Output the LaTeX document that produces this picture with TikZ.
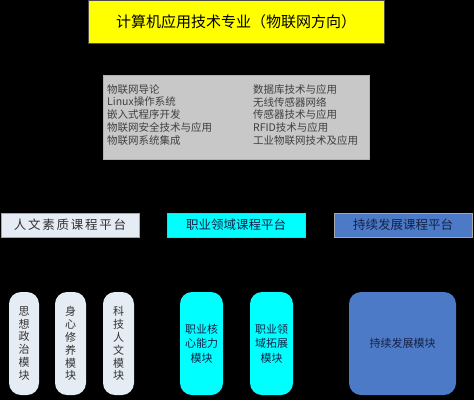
\documentclass[tikz,border=0pt]{standalone}
\usepackage{fontspec}
\newfontfamily\cjk{Noto Sans CJK SC}
\usetikzlibrary{positioning}

\definecolor{titleyellow}{RGB}{255,255,0}
\definecolor{coursegray}{RGB}{200,200,200}
\definecolor{paleblue}{RGB}{230,236,244}
\definecolor{platcyan}{RGB}{0,255,255}
\definecolor{steelblue}{RGB}{76,122,198}
\definecolor{navytext}{RGB}{20,34,72}

\begin{document}
\begin{tikzpicture}[x=1pt,y=-1pt,
    platbox/.style={draw=gray!70, line width=0.6pt, minimum width=138pt,
        minimum height=24pt, inner sep=0pt,
        font=\cjk\fontsize{12.5}{13}\selectfont},
    modbox/.style={rounded corners=12pt, minimum height=103pt, inner sep=0pt,
        align=center, font=\cjk\fontsize{11}{12.9}\selectfont}]
  % background
  \fill[black] (0,0) rectangle (474,400);
  \useasboundingbox (0,0) rectangle (474,400);
  % major
  \node[draw=black!70, fill=titleyellow, minimum width=296pt, minimum height=43pt,
        inner sep=0pt, font=\cjk\fontsize{15}{16}\selectfont] (major) at (236,21.5)
        {计算机应用技术专业（物联网方向）};
  % core courses
  \node[draw=gray!60, fill=coursegray, minimum width=266pt, minimum height=84pt,
        inner sep=0pt] (core) at (236,117) {};
  \node[anchor=north west, align=left, inner sep=0pt, text=black!75,
        font=\cjk\fontsize{10.5}{12.9}\selectfont] (coreleft) at (107,84)
        {物联网导论\\Linux操作系统\\嵌入式程序开发\\物联网安全技术与应用\\物联网系统集成};
  \node[anchor=north west, align=left, inner sep=0pt, text=black!75,
        font=\cjk\fontsize{10.5}{12.9}\selectfont] (coreright) at (253,84)
        {数据库技术与应用\\无线传感器网络\\传感器技术与应用\\RFID技术与应用\\工业物联网技术及应用};
  % platforms
  \node[platbox, fill=paleblue, text=black!80] (human) at (70,225)
        {\addfontfeature{LetterSpace=14}人文素质课程平台};
  \node[platbox, fill=platcyan, text=navytext] (career) at (236,225) {职业领域课程平台};
  \node[platbox, fill=steelblue, text=navytext] (growth) at (403,225) {持续发展课程平台};
  % modules
  \node[modbox, fill=paleblue, minimum width=30pt, text=black!80] (politics) at (24,343.5)
        {思\\想\\政\\治\\模\\块};
  \node[modbox, fill=paleblue, minimum width=31pt, text=black!80] (mind) at (70.5,343.5)
        {身\\心\\修\\养\\模\\块};
  \node[modbox, fill=paleblue, minimum width=31pt, text=black!80] (tech) at (118.5,343.5)
        {科\\技\\人\\文\\模\\块};
  \node[modbox, fill=platcyan, minimum width=43pt, text=navytext,
        font=\cjk\fontsize{11}{14.5}\selectfont] (corecap) at (201.5,343.5)
        {职业核\\心能力\\模块};
  \node[modbox, fill=platcyan, minimum width=43pt, text=navytext,
        font=\cjk\fontsize{11}{14.5}\selectfont] (fieldext) at (271.5,343.5)
        {职业领\\域拓展\\模块};
  \node[modbox, fill=steelblue, minimum width=107pt, text=navytext] (growthmod) at (402.5,343.5)
        {持续发展模块};
\end{tikzpicture}
\end{document}
